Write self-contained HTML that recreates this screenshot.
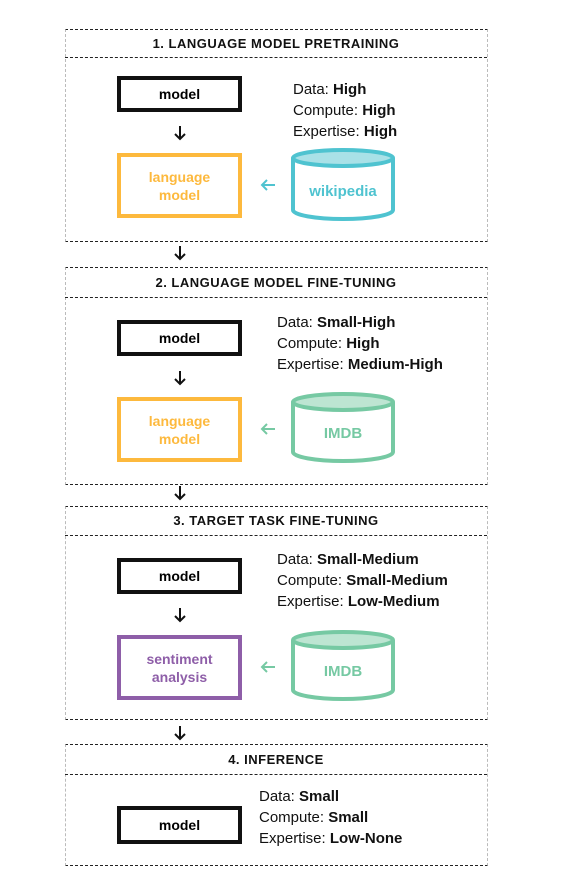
<!DOCTYPE html>
<html><head><style>
body{margin:0;width:563px;height:892px;background:#fff;position:relative;font-family:"Liberation Sans",sans-serif;overflow:hidden}
.sec{position:absolute;left:65px;width:421px;border-left:1px dashed #bbb;border-right:1px dashed #bbb;border-top:1.5px dashed #222;border-bottom:1.5px dashed #222}
.hl{position:absolute;left:65px;width:422px;border-top:1.5px dashed #222}
.h{position:absolute;left:65px;width:422px;text-align:center;font-weight:bold;font-size:13px;letter-spacing:0.5px;color:#111}
.box{position:absolute;left:117px;width:116px;box-sizing:border-box;border:4px solid #111;display:flex;align-items:center;justify-content:center;text-align:center;font-weight:bold;font-size:14px;line-height:18px}
.arr{position:absolute;left:172px}
.t{position:absolute;font-size:15px;line-height:21px;color:#111}
.t b{font-weight:bold}
.la{position:absolute;left:259px}
</style></head><body>

<div class="sec" style="top:29px;height:211px"></div>
<div class="hl" style="top:57px"></div>
<div class="h" style="top:36px">1. LANGUAGE MODEL PRETRAINING</div>
<div class="box" style="top:76px;height:36px;width:125px">model</div>
<svg class="arr" style="top:124px" width="16" height="18"><path d="M8 2V15M3 10L8 15L13 10" fill="none" stroke="#111" stroke-width="2"/></svg>
<div class="box" style="top:153px;height:65px;width:125px;border-color:#fdb93d;color:#fdb93d">language<br>model</div>
<svg class="la" style="top:177px" width="18" height="16"><path d="M16 8H3M8 3L3 8L8 13" fill="none" stroke="#4fc3d0" stroke-width="2"/></svg>
<svg style="position:absolute;left:288px;top:146px" width="112" height="80"><path d="M5 12 V64 A50 9 0 0 0 105 64 V12" fill="none" stroke="#4fc3d0" stroke-width="4"/><ellipse cx="55" cy="12" rx="50" ry="8" fill="#a9e1e7" stroke="#4fc3d0" stroke-width="4"/><text x="55" y="50" text-anchor="middle" font-family="Liberation Sans" font-weight="bold" font-size="15" fill="#4fc3d0">wikipedia</text></svg>
<div class="t" style="left:293px;top:79px">Data: <b>High</b><br>Compute: <b>High</b><br>Expertise: <b>High</b></div>

<svg class="arr" style="top:244px" width="16" height="18"><path d="M8 2V15M3 10L8 15L13 10" fill="none" stroke="#111" stroke-width="2"/></svg>

<div class="sec" style="top:267px;height:216px"></div>
<div class="hl" style="top:297px"></div>
<div class="h" style="top:275px">2. LANGUAGE MODEL FINE-TUNING</div>
<div class="box" style="top:320px;height:36px;width:125px">model</div>
<svg class="arr" style="top:369px" width="16" height="18"><path d="M8 2V15M3 10L8 15L13 10" fill="none" stroke="#111" stroke-width="2"/></svg>
<div class="box" style="top:397px;height:65px;width:125px;border-color:#fdb93d;color:#fdb93d">language<br>model</div>
<svg class="la" style="top:421px" width="18" height="16"><path d="M16 8H3M8 3L3 8L8 13" fill="none" stroke="#76c9a3" stroke-width="2"/></svg>
<svg style="position:absolute;left:288px;top:390px" width="112" height="76"><path d="M5 12 V62 A50 9 0 0 0 105 62 V12" fill="none" stroke="#76c9a3" stroke-width="4"/><ellipse cx="55" cy="12" rx="50" ry="8" fill="#bde5d2" stroke="#76c9a3" stroke-width="4"/><text x="55" y="48" text-anchor="middle" font-family="Liberation Sans" font-weight="bold" font-size="15" fill="#76c9a3">IMDB</text></svg>
<div class="t" style="left:277px;top:312px">Data: <b>Small-High</b><br>Compute: <b>High</b><br>Expertise: <b>Medium-High</b></div>

<svg class="arr" style="top:484px" width="16" height="18"><path d="M8 2V15M3 10L8 15L13 10" fill="none" stroke="#111" stroke-width="2"/></svg>

<div class="sec" style="top:506px;height:212px"></div>
<div class="hl" style="top:535px"></div>
<div class="h" style="top:513px">3. TARGET TASK FINE-TUNING</div>
<div class="box" style="top:558px;height:36px;width:125px">model</div>
<svg class="arr" style="top:606px" width="16" height="18"><path d="M8 2V15M3 10L8 15L13 10" fill="none" stroke="#111" stroke-width="2"/></svg>
<div class="box" style="top:635px;height:65px;width:125px;border-color:#8e5ea8;color:#8e5ea8">sentiment<br>analysis</div>
<svg class="la" style="top:659px" width="18" height="16"><path d="M16 8H3M8 3L3 8L8 13" fill="none" stroke="#76c9a3" stroke-width="2"/></svg>
<svg style="position:absolute;left:288px;top:628px" width="112" height="76"><path d="M5 12 V62 A50 9 0 0 0 105 62 V12" fill="none" stroke="#76c9a3" stroke-width="4"/><ellipse cx="55" cy="12" rx="50" ry="8" fill="#bde5d2" stroke="#76c9a3" stroke-width="4"/><text x="55" y="48" text-anchor="middle" font-family="Liberation Sans" font-weight="bold" font-size="15" fill="#76c9a3">IMDB</text></svg>
<div class="t" style="left:277px;top:549px">Data: <b>Small-Medium</b><br>Compute: <b>Small-Medium</b><br>Expertise: <b>Low-Medium</b></div>

<svg class="arr" style="top:724px" width="16" height="18"><path d="M8 2V15M3 10L8 15L13 10" fill="none" stroke="#111" stroke-width="2"/></svg>

<div class="sec" style="top:744px;height:120px"></div>
<div class="hl" style="top:774px"></div>
<div class="h" style="top:752px">4. INFERENCE</div>
<div class="box" style="top:806px;height:38px;width:125px">model</div>
<div class="t" style="left:259px;top:786px">Data: <b>Small</b><br>Compute: <b>Small</b><br>Expertise: <b>Low-None</b></div>
</body></html>
